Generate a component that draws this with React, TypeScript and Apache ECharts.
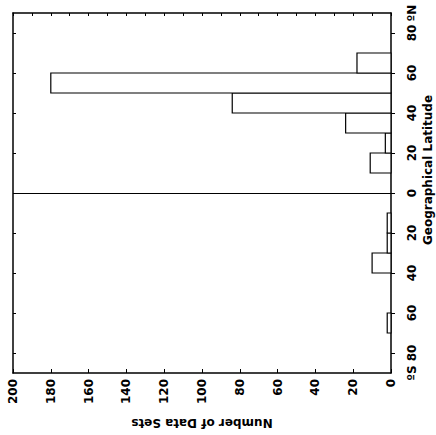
import React, { useEffect, useRef } from "react";
import * as echarts from "echarts";

// Latitude bins (lower edge, degrees; negative = South), 10 degrees wide
const latBinLow = [-90, -80, -70, -60, -50, -40, -30, -20, -10, 0, 10, 20, 30, 40, 50, 60, 70, 80];
const binWidth = 10;
// Number of data sets per latitude bin
const dataSetCounts = [0, 0, 2, 0, 0, 10, 2, 2, 0, 0, 11, 3, 24, 84, 180, 18, 0, 0];

// Latitude axis labels
const latLabelValues = [-90, -80, -60, -40, -20, 0, 20, 40, 60, 80, 90];
const latLabelTexts = ["ºS", "80", "60", "40", "20", "0", "20", "40", "60", "80", "ºN"];
const latTickValues = [-80, -60, -40, -20, 0, 20, 40, 60, 80];

const FONT = "DejaVu Sans";

export default function App() {
  const ref = useRef<HTMLDivElement>(null);
  useEffect(() => {
    if (!ref.current) return;
    const chart = echarts.init(ref.current, null, { renderer: "svg" });
    const data = latBinLow
      .map((low, i) => [dataSetCounts[i], low])
      .filter((d) => d[0] > 0);
    const axisLine = { show: true, onZero: false, lineStyle: { color: "#000", width: 1.5 } };
    chart.setOption({
      animation: false,
      backgroundColor: "#fff",
      grid: { left: 13, top: 13, width: 378, height: 360 },
      xAxis: [
        {
          type: "value",
          position: "bottom",
          min: 0,
          max: 200,
          interval: 20,
          inverse: true,
          axisLine,
          axisTick: { show: true, inside: true, length: 4, lineStyle: { color: "#000", width: 1 } },
          axisLabel: {
            rotate: 90,
            margin: 6,
            color: "#000",
            fontFamily: FONT,
            fontWeight: "bold",
            fontSize: 12,
          },
          splitLine: { show: false },
          name: "Number of Data Sets",
          nameLocation: "middle",
          nameRotate: 180,
          nameGap: 44,
          nameTextStyle: { color: "#000", fontFamily: FONT, fontWeight: "bold", fontSize: 12 },
        },
        {
          type: "value",
          position: "top",
          min: 0,
          max: 200,
          interval: 10,
          inverse: true,
          axisLine,
          axisTick: { show: true, inside: true, length: 3, lineStyle: { color: "#000", width: 1 } },
          axisLabel: { show: false },
          splitLine: { show: false },
        },
      ],
      yAxis: [
        {
          type: "value",
          position: "right",
          min: -90,
          max: 90,
          interval: 10,
          axisLine,
          axisTick: {
            show: true,
            length: 4,
            customValues: latTickValues,
            lineStyle: { color: "#000", width: 1 },
          },
          axisLabel: {
            customValues: latLabelValues,
            rotate: 90,
            margin: 15,
            color: "#000",
            fontFamily: FONT,
            fontWeight: "bold",
            fontSize: 12,
            formatter: (v: number) => {
              const i = latLabelValues.indexOf(Math.round(v));
              return i >= 0 ? latLabelTexts[i] : "";
            },
          },
          splitLine: { show: false },
        },
        {
          type: "value",
          position: "left",
          min: -90,
          max: 90,
          interval: 10,
          axisLine,
          axisTick: {
            show: true,
            inside: true,
            length: 3,
            customValues: latTickValues,
            lineStyle: { color: "#000", width: 1 },
          },
          axisLabel: { show: false },
          splitLine: { show: false },
        },
      ],
      graphic: [
        {
          type: "text",
          x: 428,
          y: 170,
          rotation: Math.PI / 2,
          style: {
            text: "Geographical Latitude",
            font: `bold 12px ${FONT}`,
            fill: "#000",
            align: "center",
            verticalAlign: "middle",
          },
        },
      ],
      series: [
        {
          type: "custom",
          xAxisIndex: 0,
          yAxisIndex: 0,
          encode: { x: 0, y: 1 },
          data,
          renderItem: (params: any, api: any) => {
            const count = api.value(0);
            const low = api.value(1);
            const p0 = api.coord([0, low]);
            const p1 = api.coord([count, low + binWidth]);
            return {
              type: "rect",
              shape: {
                x: Math.min(p0[0], p1[0]),
                y: Math.min(p0[1], p1[1]),
                width: Math.abs(p1[0] - p0[0]),
                height: Math.abs(p1[1] - p0[1]),
              },
              style: { fill: "#fff", stroke: "#000", lineWidth: 1.2 },
            };
          },
          markLine: {
            silent: true,
            symbol: "none",
            label: { show: false },
            lineStyle: { color: "#000", type: "solid", width: 1.2 },
            data: [{ yAxis: 0 }],
          },
        },
      ],
    });
    return () => chart.dispose();
  }, []);
  return (
    <div
      ref={ref}
      style={{ position: "fixed", left: 0, top: 0, width: 436, height: 435, background: "#fff" }}
    />
  );
}
